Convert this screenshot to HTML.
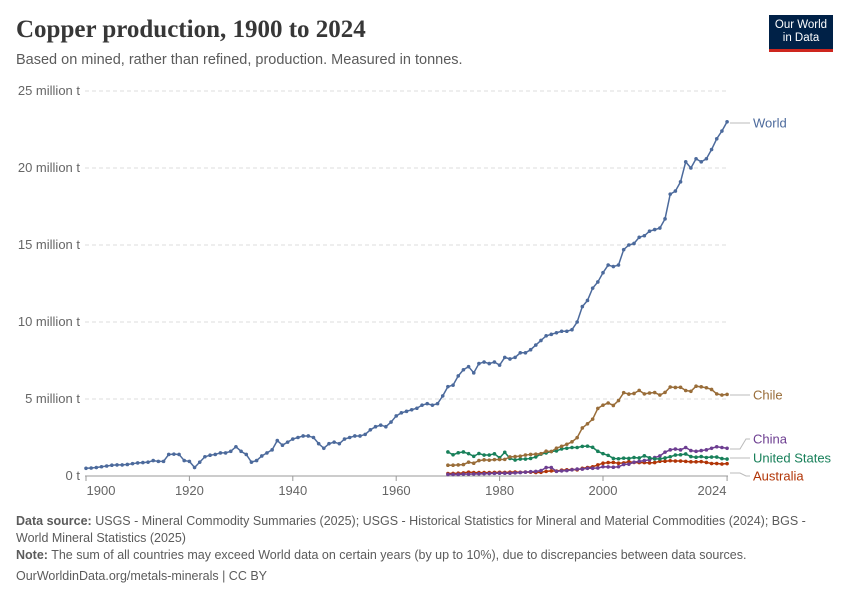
<!DOCTYPE html>
<html><head><meta charset="utf-8"><style>
body{margin:0;background:#fff;font-family:"Liberation Sans",sans-serif;}
#c{position:relative;width:850px;height:600px;overflow:hidden}
.t{position:absolute;white-space:nowrap}
</style></head><body><div id="c">
<div class="t" style="left:16px;top:16px;font-family:'Liberation Serif',serif;font-size:25px;font-weight:bold;color:#373737">Copper production, 1900 to 2024</div>
<div class="t" style="left:16px;top:52px;font-size:14.5px;color:#5b5b5b">Based on mined, rather than refined, production. Measured in tonnes.</div>
<div style="position:absolute;left:769px;top:15px;width:64px;height:37px;background:#002147;border-bottom:3px solid #ce261e;box-sizing:border-box;color:#fff;font-size:11.5px;line-height:13px;text-align:center;padding-top:4px">Our World<br>in Data</div>
<svg id="s" width="850" height="600" style="position:absolute;left:0;top:0" font-family="Liberation Sans, sans-serif"></svg>
<div class="t" style="left:16px;top:513px;font-size:12.5px;color:#5b5b5b;line-height:17px;white-space:normal;width:820px"><b>Data source:</b> USGS - Mineral Commodity Summaries (2025); USGS - Historical Statistics for Mineral and Material Commodities (2024); BGS - World Mineral Statistics (2025)</div>
<div class="t" style="left:16px;top:548px;font-size:12.5px;color:#5b5b5b"><b>Note:</b> The sum of all countries may exceed World data on certain years (by up to 10%), due to discrepancies between data sources.</div>
<div class="t" style="left:16px;top:569px;font-size:12.5px;color:#5b5b5b">OurWorldinData.org/metals-minerals | CC BY</div>
</div>
<script>
const s=document.getElementById('s');let h='';
const X=y=>86+(y-1900)*5.17, Y=v=>476-v*15.4;
[0,5,10,15,20,25].forEach(v=>{const y=Y(v);
h+=`<line x1="85" x2="728" y1="${y}" y2="${y}" stroke="#ddd" ${v?'stroke-dasharray="4,3"':''}/>`;
h+=`<text x="80" y="${y+4}" text-anchor="end" font-size="13" fill="#666">${v?v+' million t':'0 t'}</text>`;});
h+=`<line x1="85" x2="728" y1="476" y2="476" stroke="#999"/>`;
[[1900,101],[1920],[1940],[1960],[1980],[2000],[2024,712]].forEach(a=>{const x=X(a[0]);
h+=`<line x1="${x}" x2="${x}" y1="476" y2="481" stroke="#999"/><text x="${a[1]||x}" y="495" text-anchor="middle" font-size="13" fill="#666">${a[0]}</text>`;});
const W=[0.5,0.52,0.55,0.6,0.65,0.7,0.72,0.72,0.75,0.8,0.85,0.87,0.9,1.0,0.95,0.95,1.4,1.42,1.4,1.0,0.95,0.55,0.9,1.25,1.35,1.4,1.5,1.5,1.6,1.9,1.6,1.4,0.9,1.0,1.3,1.5,1.7,2.3,2.0,2.2,2.4,2.5,2.6,2.6,2.5,2.1,1.8,2.1,2.2,2.1,2.4,2.5,2.6,2.6,2.7,3.0,3.2,3.3,3.2,3.5,3.9,4.1,4.2,4.3,4.4,4.6,4.7,4.6,4.7,5.2,5.8,5.9,6.5,6.9,7.1,6.7,7.3,7.4,7.3,7.4,7.2,7.7,7.6,7.7,8.0,8.0,8.2,8.5,8.8,9.1,9.2,9.3,9.4,9.4,9.5,10.0,11.0,11.4,12.2,12.6,13.2,13.7,13.6,13.7,14.7,15.0,15.1,15.5,15.6,15.9,16.0,16.1,16.7,18.3,18.5,19.1,20.4,20.0,20.6,20.4,20.6,21.2,21.9,22.4,23.0];
const C=[0.7,0.7,0.72,0.74,0.9,0.83,1.0,1.05,1.03,1.06,1.07,1.08,1.24,1.26,1.29,1.36,1.4,1.42,1.45,1.61,1.59,1.81,1.93,2.06,2.22,2.49,3.12,3.39,3.69,4.39,4.6,4.74,4.58,4.9,5.41,5.32,5.36,5.56,5.33,5.39,5.42,5.26,5.43,5.78,5.75,5.76,5.55,5.5,5.83,5.79,5.73,5.62,5.33,5.26,5.3];
const U=[1.56,1.38,1.51,1.56,1.45,1.28,1.46,1.36,1.36,1.44,1.18,1.54,1.14,1.04,1.1,1.1,1.14,1.24,1.42,1.5,1.59,1.63,1.76,1.8,1.85,1.85,1.92,1.94,1.86,1.6,1.45,1.34,1.14,1.12,1.16,1.14,1.2,1.17,1.31,1.18,1.11,1.11,1.17,1.25,1.36,1.38,1.43,1.26,1.22,1.26,1.2,1.23,1.23,1.13,1.1];
const CH=[0.1,0.1,0.1,0.12,0.12,0.13,0.14,0.15,0.16,0.17,0.18,0.18,0.18,0.2,0.22,0.25,0.28,0.3,0.35,0.55,0.55,0.3,0.33,0.35,0.4,0.45,0.45,0.5,0.5,0.52,0.6,0.59,0.57,0.6,0.75,0.77,0.9,0.95,1.0,1.05,1.2,1.3,1.55,1.7,1.75,1.7,1.85,1.65,1.6,1.65,1.7,1.8,1.9,1.85,1.8];
const A=[0.16,0.17,0.18,0.2,0.25,0.22,0.22,0.22,0.22,0.23,0.24,0.23,0.25,0.26,0.24,0.26,0.25,0.23,0.24,0.3,0.33,0.32,0.38,0.4,0.42,0.4,0.5,0.55,0.6,0.72,0.83,0.87,0.88,0.83,0.85,0.93,0.88,0.87,0.87,0.85,0.87,0.96,0.96,0.99,0.97,0.97,0.95,0.92,0.92,0.93,0.88,0.81,0.81,0.78,0.8];
function ser(d,y0,col){const p=d.map((v,i)=>[X(y0+i),Y(v)]);
h+=`<polyline fill="none" stroke="${col}" stroke-width="1.5" points="${p.map(q=>q.join(',')).join(' ')}"/>`;
p.forEach(q=>h+=`<circle cx="${q[0]}" cy="${q[1]}" r="1.8" fill="${col}"/>`);}
ser(A,1970,'#b13507');ser(CH,1970,'#6d3e91');ser(U,1970,'#18805a');ser(C,1970,'#996d39');ser(W,1900,'#4c6a9c');
[['World',123,123,'#4c6a9c'],['Chile',395,395,'#996d39'],['China',449,439,'#6d3e91'],['United States',458,458,'#18805a'],['Australia',473,476,'#b13507']].forEach(l=>{
h+=`<polyline fill="none" stroke="#bbb" points="730,${l[1]} 740,${l[1]} 746,${l[2]} 750,${l[2]}"/><text x="753" y="${l[2]+4.5}" font-size="13" fill="${l[3]}">${l[0]}</text>`;});
s.innerHTML=h;
</script></body></html>
